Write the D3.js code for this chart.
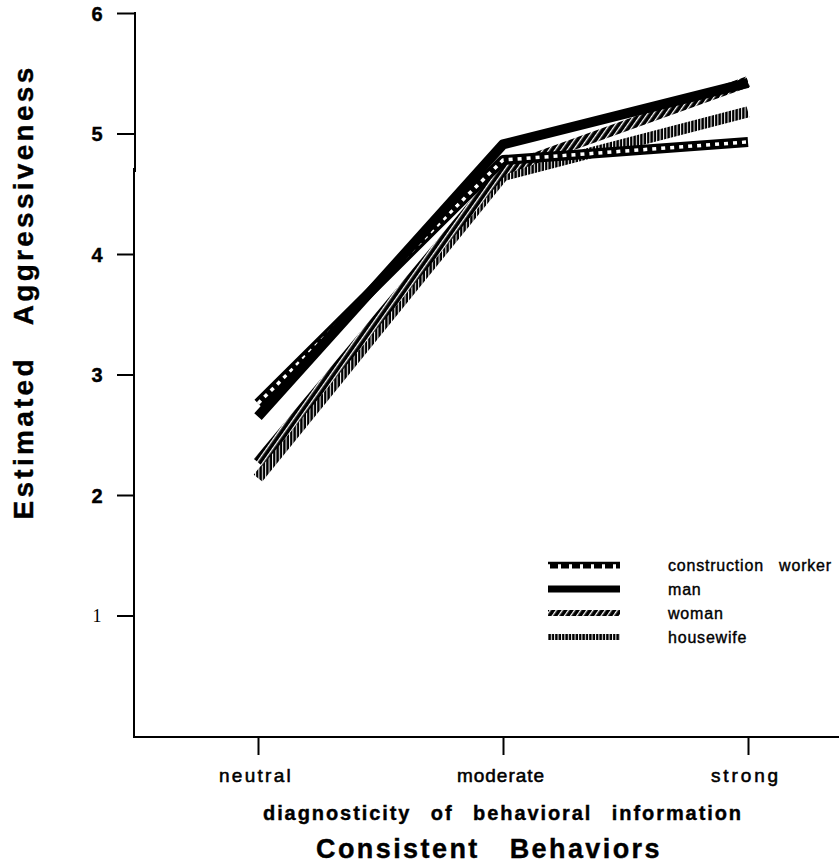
<!DOCTYPE html>
<html>
<head>
<meta charset="utf-8">
<script src="https://cdn.jsdelivr.net/npm/d3@7"></script>
<style>
  body { margin: 0; background: #fff; }
  svg { display: block; }
  text { font-family: "Liberation Sans", Arial, sans-serif; fill: #000; }
</style>
</head>
<body>
<svg id="chart" width="839" height="864"></svg>
<script>
// values
var categories = ["neutral", "moderate", "strong"];
var categoryWidths = [74, 88, 70];
var yTicks = [1, 2, 3, 4, 5, 6];
var seriesNames = ["construction worker", "man", "woman", "housewife"];
var constructionWorker = [2.76, 4.78, 4.93];
var man = [2.65, 4.91, 5.42];
var woman = [2.27, 4.70, 5.43];
var housewife = [2.14, 4.65, 5.18];

var svg = d3.select("#chart");
var x = d3.scalePoint().domain(categories).range([258, 748]);
var y = d3.scaleLinear().domain([0, 6]).range([736, 13]);

// spread letters so a label takes the width it has in the scan
function fit(sel, width) {
    sel.each(function() {
        var node = this;
        var w = typeof width === "function" ? width.apply(node, arguments) : width;
        d3.select(node).style("letter-spacing", "0px");
        var len = node.getComputedTextLength();
        var n = node.textContent.length;
        d3.select(node).style("letter-spacing", ((w - len) / n) + "px");
    });
}

// patterns for the hatched strokes
var defs = svg.append("defs");
var diag = defs.append("pattern").attr("id", "diag")
    .attr("patternUnits", "userSpaceOnUse").attr("width", 5).attr("height", 5)
    .attr("patternTransform", "rotate(35)");
diag.append("rect").attr("width", 5).attr("height", 5).attr("fill", "#000");
diag.append("rect").attr("width", 1.3).attr("height", 5).attr("fill", "#fff");

var vert = defs.append("pattern").attr("id", "vert")
    .attr("patternUnits", "userSpaceOnUse").attr("width", 3.4).attr("height", 4);
vert.append("rect").attr("width", 3.4).attr("height", 4).attr("fill", "#000");
vert.append("rect").attr("width", 1).attr("height", 4).attr("fill", "#fff");

// axes
var yAxis = svg.append("g").attr("transform", "translate(134,0)")
    .call(d3.axisLeft(y).tickValues(yTicks).tickSize(17).tickSizeOuter(0).tickFormat(d3.format("d")));
yAxis.select(".domain").remove();
yAxis.append("line").attr("x1", 1).attr("x2", 1).attr("y1", y(6) - 1).attr("y2", 172)
    .attr("stroke", "#000").attr("stroke-width", 2);
yAxis.append("line").attr("x1", 0).attr("x2", 0).attr("y1", 168).attr("y2", 738)
    .attr("stroke", "#000").attr("stroke-width", 2);
yAxis.selectAll(".tick line").attr("stroke", "#000").attr("stroke-width", 2);
yAxis.selectAll(".tick text")
    .attr("x", -37).attr("dy", "0.36em")
    .attr("text-anchor", "middle")
    .attr("stroke", "#000").attr("stroke-width", function(d) { return d === 1 ? 0 : 0.4; })
    .style("font-size", function(d) { return d === 1 ? "18px" : "20px"; })
    .style("font-family", function(d) { return d === 1 ? "'Liberation Serif', serif" : null; })
    .style("font-weight", function(d) { return d === 1 ? "normal" : "bold"; });

var xAxis = svg.append("g").attr("transform", "translate(0,737)")
    .call(d3.axisBottom(x).tickSize(18).tickSizeOuter(0).tickFormat(""));
xAxis.select(".domain").remove();
xAxis.append("line").attr("x1", 133).attr("x2", 839).attr("y1", 0).attr("y2", 0)
    .attr("stroke", "#000").attr("stroke-width", 2);
xAxis.selectAll(".tick line").attr("stroke", "#000").attr("stroke-width", 2);

svg.selectAll("text.xlab").data(categories).enter().append("text")
    .attr("class", "xlab")
    .attr("x", function(d) { return x(d) - 2; }).attr("y", 782)
    .attr("text-anchor", "middle")
    .attr("stroke", "#000").attr("stroke-width", 0.55)
    .style("font-size", "19px")
    .text(function(d) { return d; })
    .call(fit, function(d, i) { return categoryWidths[i]; });

svg.append("text").attr("x", 503).attr("y", 820).attr("text-anchor", "middle")
    .attr("stroke", "#000").attr("stroke-width", 0.4)
    .style("font-size", "20px").style("font-weight", "bold").style("word-spacing", "12px")
    .text("diagnosticity of behavioral information")
    .call(fit, 480);

svg.append("text").attr("x", 489).attr("y", 858).attr("text-anchor", "middle")
    .attr("stroke", "#000").attr("stroke-width", 0.4)
    .style("font-size", "27px").style("font-weight", "bold").style("word-spacing", "20px")
    .text("Consistent Behaviors")
    .call(fit, 346);

svg.append("text").attr("transform", "translate(33,292) rotate(-90)")
    .attr("text-anchor", "middle")
    .attr("stroke", "#000").attr("stroke-width", 0.4)
    .style("font-size", "28px").style("font-weight", "bold").style("word-spacing", "21px")
    .text("Estimated Aggressiveness")
    .call(fit, 455);

// lines
var line = d3.line()
    .x(function(d, i) { return x(categories[i]); })
    .y(function(d) { return y(d); });

var plot = svg.append("g").attr("fill", "none").attr("stroke-linejoin", "round");

plot.append("path").attr("d", line(housewife))
    .attr("stroke", "url(#vert)").attr("stroke-width", 11);
plot.append("path").attr("d", line(woman))
    .attr("stroke", "url(#diag)").attr("stroke-width", 11);
plot.append("path").attr("d", line(constructionWorker))
    .attr("stroke", "#000").attr("stroke-width", 10);
plot.append("path").attr("d", line(constructionWorker))
    .attr("stroke", "#fff").attr("stroke-width", 3.5).attr("stroke-dasharray", "4 5");
plot.append("path").attr("d", line(man))
    .attr("stroke", "#000").attr("stroke-width", 10);

// legend
var legend = svg.append("g");
var ly = d3.scalePoint().domain(seriesNames).range([565, 637]);
legend.selectAll("text").data(seriesNames).enter().append("text")
    .attr("x", 668).attr("y", function(d) { return ly(d) + 6; })
    .attr("stroke", "#000").attr("stroke-width", 0.4)
    .style("font-size", "16px").style("letter-spacing", "0.8px").style("word-spacing", "10px")
    .text(function(d) { return d; });

var cw = ly("construction worker");
legend.append("line").attr("x1", 548).attr("x2", 620).attr("y1", cw - 2).attr("y2", cw - 2)
    .attr("stroke", "#000").attr("stroke-width", 2.5);
legend.append("line").attr("x1", 550).attr("x2", 620).attr("y1", cw + 1).attr("y2", cw + 1)
    .attr("stroke", "#000").attr("stroke-width", 5).attr("stroke-dasharray", "8 3");
legend.append("line").attr("x1", 548).attr("x2", 620).attr("y1", ly("man")).attr("y2", ly("man"))
    .attr("stroke", "#000").attr("stroke-width", 7);
legend.append("rect").attr("x", 548).attr("y", ly("woman") - 3).attr("width", 72).attr("height", 6)
    .attr("fill", "url(#diag)");
legend.append("rect").attr("x", 548).attr("y", ly("housewife") - 3).attr("width", 72).attr("height", 6)
    .attr("fill", "url(#vert)");
</script>
</body>
</html>
